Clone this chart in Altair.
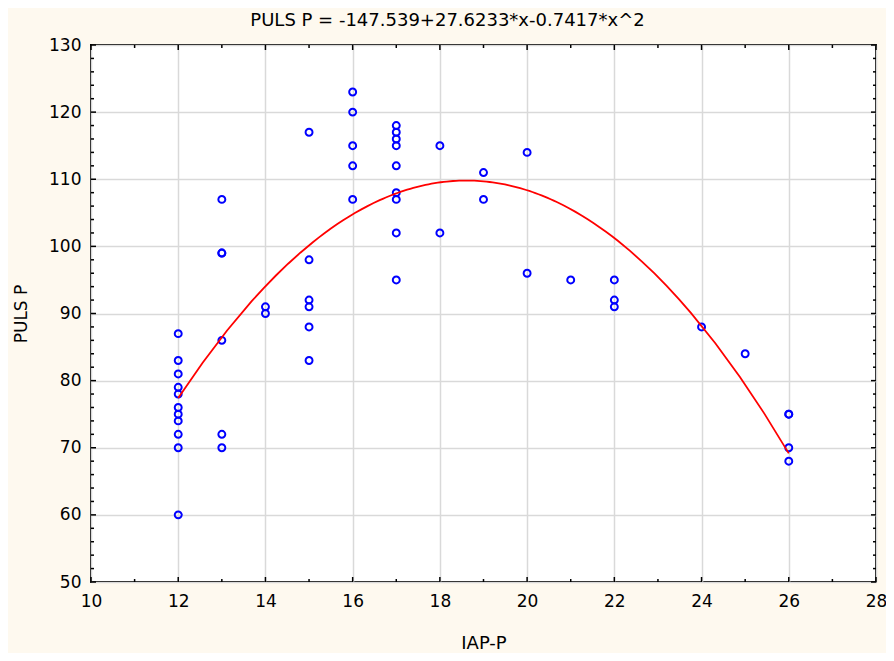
import altair as alt
import pandas as pd

# Data
iap_p = [12, 12, 12, 12, 12, 12, 12, 12, 12, 12, 12,
         13, 13, 13, 13, 13, 13,
         14, 14,
         15, 15, 15, 15, 15, 15,
         16, 16, 16, 16, 16,
         17, 17, 17, 17, 17, 17, 17, 17, 17,
         18, 18,
         19, 19,
         20, 20,
         21,
         22, 22, 22,
         24,
         25,
         26, 26, 26, 26]
puls_p = [87, 83, 81, 79, 78, 76, 75, 74, 72, 70, 60,
          107, 99, 99, 86, 72, 70,
          91, 90,
          117, 98, 92, 91, 88, 83,
          123, 120, 115, 112, 107,
          118, 117, 116, 115, 112, 108, 107, 102, 95,
          115, 102,
          111, 107,
          114, 96,
          95,
          95, 92, 91,
          88,
          84,
          75, 75, 70, 68]

x_major = [10, 12, 14, 16, 18, 20, 22, 24, 26, 28]
x_minor = [11, 13, 15, 17, 19, 21, 23, 25, 27]
y_major = [50, 60, 70, 80, 90, 100, 110, 120, 130]
y_minor = [52, 54, 56, 58, 62, 64, 66, 68, 72, 74, 76, 78, 82, 84, 86, 88,
           92, 94, 96, 98, 102, 104, 106, 108, 112, 114, 116, 118,
           122, 124, 126, 128]

title_text = "PULS P = -147.539+27.6233*x-0.7417*x^2"

W, H = 785, 537
FONT = "DejaVu Sans"

df = pd.DataFrame({"IAP-P": iap_p, "PULS P": puls_p})

xscale = alt.Scale(domain=[10, 28], nice=False, zero=False)
yscale = alt.Scale(domain=[50, 130], nice=False, zero=False)

xaxis = alt.Axis(values=x_major, grid=True, gridColor="#d9d9d9", gridWidth=1.5,
                 ticks=False, domain=False, labelFont=FONT, labelFontSize=17,
                 labelColor="black", labelPadding=11, title="IAP-P",
                 titleFont=FONT, titleFontSize=18, titleFontWeight="normal",
                 titleColor="black", titleY=66, titleBaseline="alphabetic",
                 labelFlush=False, labelOverlap=False)
yaxis = alt.Axis(values=y_major, grid=True, gridColor="#d9d9d9", gridWidth=1.5,
                 ticks=False, domain=False, labelFont=FONT, labelFontSize=17,
                 labelColor="black", labelPadding=10, title="PULS P",
                 titleFont=FONT, titleFontSize=17, titleFontWeight="normal",
                 titleColor="black", titleAngle=-90, titleX=-65, titleY=H / 2,
                 titleAlign="center", titleBaseline="alphabetic",
                 labelFlush=False, labelOverlap=False)

points = alt.Chart(df).mark_point(shape="circle", filled=False, color="#0000ff",
                                  size=48, strokeWidth=2, opacity=1).encode(
    x=alt.X("IAP-P:Q", scale=xscale, axis=xaxis),
    y=alt.Y("PULS P:Q", scale=yscale, axis=yaxis),
)

fit = alt.Chart(df).transform_regression(
    "IAP-P", "PULS P", method="poly", order=2
).mark_line(color="#ff0000", strokeWidth=1.8).encode(
    x=alt.X("IAP-P:Q", scale=xscale, axis=xaxis),
    y=alt.Y("PULS P:Q", scale=yscale, axis=yaxis),
)

dxmaj = pd.DataFrame({"v": x_major})
dxmin = pd.DataFrame({"v": x_minor})
dymaj = pd.DataFrame({"v": y_major})
dymin = pd.DataFrame({"v": y_minor})


def xticks(d, length, top):
    return alt.Chart(d).mark_rule(color="black", strokeWidth=1.5).encode(
        x=alt.X("v:Q", scale=xscale, axis=xaxis),
        y=alt.value(0 if top else H),
        y2=alt.value(length if top else H - length),
    )


def yticks(d, length, right):
    return alt.Chart(d).mark_rule(color="black", strokeWidth=1.5).encode(
        y=alt.Y("v:Q", scale=yscale, axis=yaxis),
        x=alt.value(W if right else 0),
        x2=alt.value(W - length if right else length),
    )


ticks = [
    xticks(dxmaj, 5, False), xticks(dxmin, 3, False),
    xticks(dxmaj, 5, True), xticks(dxmin, 3, True),
    yticks(dymaj, 5, False), yticks(dymin, 3, False),
    yticks(dymaj, 5, True), yticks(dymin, 3, True),
]

chart = alt.layer(points, fit, *ticks).properties(
    width=W,
    height=H,
    autosize=alt.AutoSizeParams(type="none"),
    padding={"left": 83, "top": 37, "right": 10, "bottom": 71},
    title=alt.TitleParams(text=title_text, font=FONT, fontSize=18,
                          fontWeight="normal", color="black", anchor="middle",
                          dx=-36, dy=26, offset=18, baseline="alphabetic"),
).configure(background="#fef9ef").configure_view(
    fill="white", stroke="black", strokeWidth=2
)

chart.save("out.html", embed_options={"renderer": "svg", "actions": False})
